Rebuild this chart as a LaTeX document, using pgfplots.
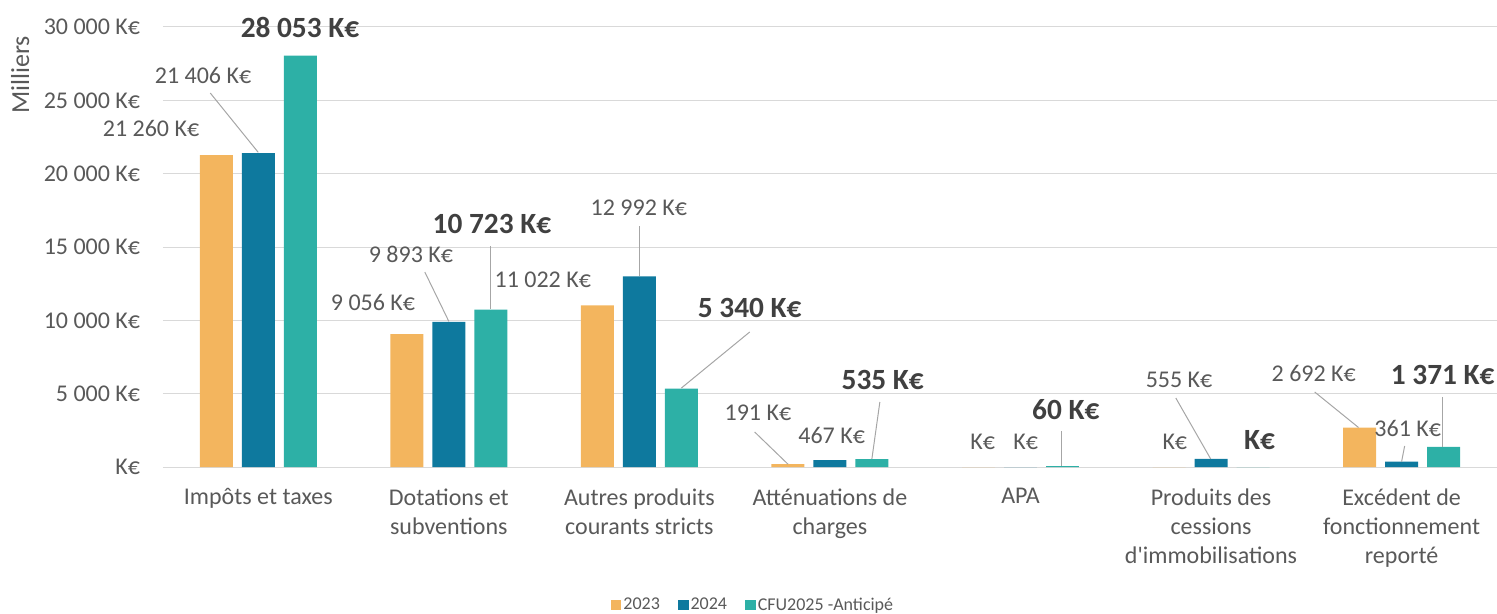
\documentclass[border=0pt]{standalone}
\usepackage{pgfplots}
\pgfplotsset{compat=1.18}
\usepackage{fontspec}
\setmainfont{Carlito}
\definecolor{cA}{HTML}{F3B55E}
\definecolor{cB}{HTML}{0E799E}
\definecolor{cC}{HTML}{2DB0A6}
\definecolor{txt}{HTML}{595959}
\definecolor{txtb}{HTML}{404040}
\definecolor{gridc}{HTML}{D9D9D9}
\definecolor{lead}{HTML}{A6A6A6}
\begin{document}
\begin{tikzpicture}[x=1pt,y=1pt,
  lab/.style={font=\fontsize{18}{20}\selectfont, text=txt, inner sep=0pt},
  labb/.style={font=\fontsize{22}{24}\selectfont\bfseries, text=txtb, inner sep=0pt},
  ld/.style={draw=lead, line width=0.75pt}]
\begin{axis}[
  at={(0,0)}, anchor=south west,
  scale only axis, width=1000.5pt, height=330pt,
  xmin=-0.5, xmax=6.5, ymin=0, ymax=30000,
  clip=false,
  scaled y ticks=false,
  axis line style={draw=none},
  major tick length=0pt,
  ymajorgrids, major grid style={draw=gridc, line width=0.75pt},
  ytick={0,5000,10000,15000,20000,25000,30000},
  yticklabels={K€, 5 000 K€, 10 000 K€, 15 000 K€, 20 000 K€, 25 000 K€, 30 000 K€},
  yticklabel style={font=\fontsize{18}{20}\selectfont, text=txt, anchor=east, inner sep=0pt, xshift=-17pt},
  xtick={0,1,2,3,4,5,6},
  xticklabels={Impôts et taxes, Dotations et\\subventions, Autres produits\\courants stricts, Atténuations de\\charges, APA, Produits des\\cessions\\d\textquotesingle immobilisations, Excédent de\\fonctionnement\\reporté},
  xticklabel style={font=\fontsize{18}{21.75}\selectfont, text=txt, align=center, anchor=north, inner sep=0pt, yshift=-16pt},
  legend style={at={(0.4423,-0.3136)}, anchor=center, draw=none, fill=none,
    font=\fontsize{13.5}{15}\selectfont, text=txt, legend columns=3,
    /tikz/every even column/.append style={column sep=12pt},
    nodes={inner sep=1.5pt}},
  legend image code/.code={\fill[#1] (0pt,-4pt) rectangle (8pt,4pt);},
]
\addplot[ybar, bar width=0.173, bar shift=-0.2204, fill=cA, draw=none]
  coordinates {(0,21260) (1,9056) (2,11022) (3,191) (4,0) (5,0) (6,2692)};
\addplot[ybar, bar width=0.173, bar shift=0, fill=cB, draw=none]
  coordinates {(0,21406) (1,9893) (2,12992) (3,467) (4,0) (5,555) (6,361)};
\addplot[ybar, bar width=0.173, bar shift=0.2204, fill=cC, draw=none]
  coordinates {(0,28053) (1,10723) (2,5340) (3,535) (4,60) (5,0) (6,1371)};
\legend{2023,2024,CFU2025 -Anticipé}

% leader lines
\draw[ld] (axis cs:-0.252,25500) -- (axis cs:0,21450);
\draw[ld] (axis cs:0.874,13295) -- (axis cs:1.0,9930);
\draw[ld] (axis cs:1.22,15068) -- (axis cs:1.22,10760);
\draw[ld] (axis cs:2.0,16431) -- (axis cs:2.0,13030);
\draw[ld] (axis cs:2.579,9204) -- (axis cs:2.22,5380);
\draw[ld] (axis cs:2.605,2386) -- (axis cs:2.78,191);
\draw[ld] (axis cs:3.262,4432) -- (axis cs:3.22,535);
\draw[ld] (axis cs:4.216,2455) -- (axis cs:4.216,60);
\draw[ld] (axis cs:4.815,4705) -- (axis cs:4.998,555);
\draw[ld] (axis cs:5.544,5114) -- (axis cs:5.774,2692);
\draw[ld] (axis cs:6.016,1432) -- (axis cs:6.0,361);
\draw[ld] (axis cs:6.216,4773) -- (axis cs:6.216,1371);

% data labels
\node[lab] at (axis cs:-0.563,23114) {21 260 K€};
\node[lab] at (axis cs:-0.290,26727) {21 406 K€};
\node[labb] at (axis cs:0.219,30000) {28 053 K€};
\node[lab] at (axis cs:0.602,11250) {9 056 K€};
\node[lab] at (axis cs:0.801,14522) {9 893 K€};
\node[labb] at (axis cs:1.226,16568) {10 723 K€};
\node[lab] at (axis cs:1.493,12750) {11 022 K€};
\node[lab] at (axis cs:1.997,17659) {12 992 K€};
\node[labb] at (axis cs:2.579,10841) {5 340 K€};
\node[lab] at (axis cs:2.622,3682) {191 K€};
\node[lab] at (axis cs:3.009,2182) {467 K€};
\node[labb] at (axis cs:3.277,5932) {535 K€};
\node[lab] at (axis cs:3.802,1705) {K€};
\node[lab] at (axis cs:4.027,1705) {K€};
\node[labb] at (axis cs:4.238,3886) {60 K€};
\node[lab] at (axis cs:4.810,1705) {K€};
\node[lab] at (axis cs:4.832,5932) {555 K€};
\node[labb] at (axis cs:5.255,1841) {K€};
\node[lab] at (axis cs:5.539,6409) {2 692 K€};
\node[lab] at (axis cs:6.032,2659) {361 K€};
\node[labb] at (axis cs:6.216,6273) {1 371 K€};

\node[rotate=90, font=\fontsize{19.5}{21}\selectfont, text=txt, inner sep=0pt] at (axis cs:-1.25,26727) {Milliers};
\end{axis}
\pgfresetboundingbox
\path[use as bounding box] (-122.25pt,-110.25pt) rectangle (1000.5pt,350.25pt);
\end{tikzpicture}
\end{document}
